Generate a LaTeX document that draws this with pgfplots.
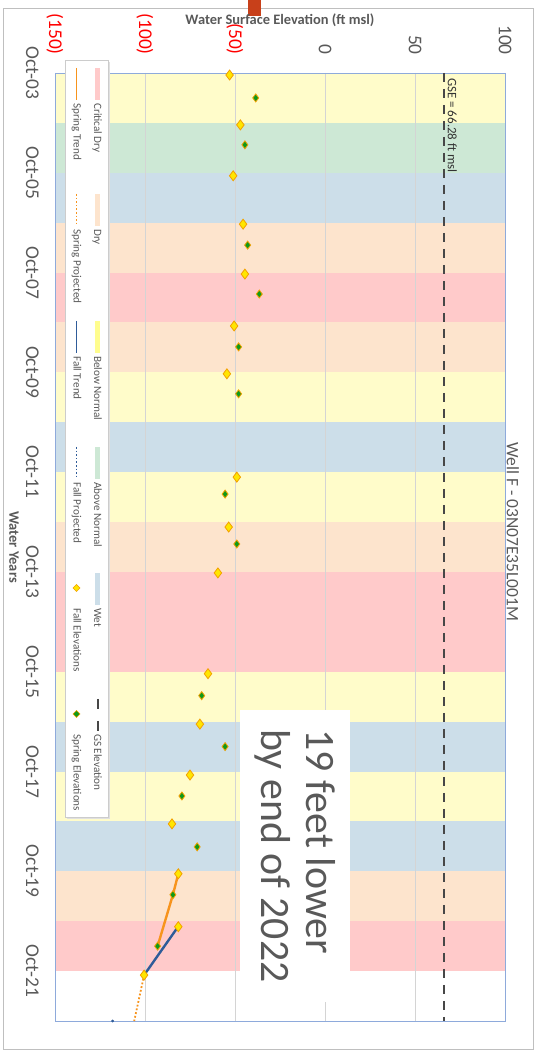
\documentclass[border=0pt]{standalone}
\usepackage{pgfplots}
\pgfplotsset{compat=1.18}
\usepackage{fontspec}
\setmainfont{Carlito}
\definecolor{crit}{HTML}{FFCACA}
\definecolor{dry}{HTML}{FDE4CD}
\definecolor{bn}{HTML}{FFFCCA}
\definecolor{an}{HTML}{CDE8D5}
\definecolor{wet}{HTML}{CCDEE9}
\definecolor{txt}{HTML}{595959}
\definecolor{sorange}{HTML}{F7941D}
\definecolor{fblue}{HTML}{2F5C99}
\definecolor{fyellow}{HTML}{FFE600}
\definecolor{mkedge}{HTML}{F2A000}
\definecolor{sgreen}{HTML}{0E9A1A}
\definecolor{frame}{HTML}{8EAADB}
\definecolor{arrowred}{HTML}{C8401A}
\pgfplotstableread{
t elev
0.04 -53
1.04 -47
2.06 -51
3.03 -45.5
4.03 -44.5
5.07 -50.5
6.03 -54.5
8.10 -49
9.10 -53.5
10.02 -59.5
12.04 -65
13.05 -69.5
14.07 -75
15.05 -85
16.05 -81.5
17.11 -81.5
18.08 -100.5
}\fall
\pgfplotstableread{
t elev
0.50 -38.5
1.44 -44.5
3.45 -43
4.43 -36.5
5.49 -48
6.43 -48
8.44 -55.5
9.44 -49
12.48 -68.5
13.50 -55.5
14.49 -79.5
15.51 -71
16.47 -84.5
17.50 -93
}\spring
\newcommand{\band}[3]{\addplot[fill=#3, draw=none, forget plot, on layer=axis background] coordinates {(-150,#1) (100,#1) (100,#2) (-150,#2)} --cycle;}
\newcommand{\legtext}[3]{\node[rotate=-90, anchor=west, inner sep=0pt, text height=1.5ex, text depth=.25ex, font=\fontsize{11.2}{12}\selectfont, text=txt] at (#1bp,#2bp) {#3};}
\begin{document}
\begin{tikzpicture}
\draw[black!25, line width=1bp] (3bp,3bp) rectangle (533bp,1044bp);
\fill[arrowred] (248bp,1037bp) rectangle (261bp,1053bp);
\begin{axis}[
  at={(55bp,32bp)}, anchor=south west,
  scale only axis, width=450bp, height=948bp,
  xmin=-150, xmax=100, ymin=0, ymax=19, y dir=reverse,
  set layers, clip=false,
  axis line style={draw=frame, line width=0.9bp},
  xtick={-150,-100,-50,0,50,100},
  xticklabels={\textcolor{red}{(150)},\textcolor{red}{(100)},\textcolor{red}{(50)},0,50,100},
  xticklabel pos=upper,
  ytick={0,2,...,18},
  yticklabels={Oct-03,Oct-05,Oct-07,Oct-09,Oct-11,Oct-13,Oct-15,Oct-17,Oct-19,Oct-21},
  major tick length=0pt,
  xmajorgrids, grid style={draw=black!17, line width=0.8bp},
  /pgf/number format/assume math mode=true,
  tick label style={font=\fontsize{19.5}{20}\selectfont, text=txt},
  xticklabel style={yshift=18bp, rotate=-90, anchor=east, inner sep=0pt},
  yticklabel style={xshift=-16bp, rotate=-90, anchor=north, inner sep=0pt},
]
\band{0}{1}{bn}
\band{1}{2}{an}
\band{2}{3}{wet}
\band{3}{4}{dry}
\band{4}{5}{crit}
\band{5}{6}{dry}
\band{6}{7}{bn}
\band{7}{8}{wet}
\band{8}{9}{bn}
\band{9}{10}{dry}
\band{10}{12}{crit}
\band{12}{13}{bn}
\band{13}{14}{wet}
\band{14}{15}{bn}
\band{15}{16}{wet}
\band{16}{17}{dry}
\band{17}{18}{crit}
% GSE line
\addplot[forget plot, draw=black!72, line width=2bp, dash pattern=on 9bp off 7bp] coordinates {(66.28,0) (66.28,19)};
% trends
\addplot[forget plot, draw=sorange, line width=2.4bp] coordinates {(-81.5,16.05) (-84.5,16.47) (-93,17.50)};
\addplot[forget plot, draw=fblue, line width=2.4bp] coordinates {(-82,17.13) (-100.5,18.08)};
\addplot[forget plot, draw=sorange, line width=1.8bp, dotted] coordinates {(-100.5,18.08) (-106,19)};
\addplot[forget plot, only marks, mark=*, mark size=1.2bp, fblue] coordinates {(-118,19)};
% points
\addplot[forget plot, only marks, mark=diamond*, mark size=5bp, mark options={fill=fyellow, draw=mkedge, line width=0.8bp}] table[x=elev, y=t] {\fall};
\addplot[forget plot, only marks, mark=diamond*, mark size=4bp, mark options={fill=sgreen, draw=mkedge, line width=0.8bp}] table[x=elev, y=t] {\spring};
% annotations
\node[font=\bfseries\fontsize{14.5}{16}\selectfont, text=txt] at (axis cs:-25,-1.06) {Water Surface Elevation (ft msl)};
\node[rotate=-90, font=\bfseries\fontsize{14.5}{16}\selectfont, text=txt] at (axis cs:-172.8,9.5) {Water Years};
\node[rotate=-90, font=\fontsize{17.5}{19}\selectfont, text=txt] at (axis cs:104.4,9.2) {Well F - 03N07E35L001M};
\node[rotate=-90, anchor=west, inner sep=0pt, font=\fontsize{13}{14}\selectfont, text=black!80] at (axis cs:70.8,0.1) {GSE = 66.28 ft msl};
\node[rotate=-90, fill=white, align=left, inner sep=0pt, minimum width=292bp, minimum height=110bp, font=\fontsize{42}{45}\selectfont, text=txt] at (axis cs:-16.7,15.69) {19 feet lower\\by end of 2022};
\end{axis}
% legend (drawn rotated, as in the reference)
\fill[black!12] (67bp,234bp) rectangle (110bp,991bp);
\filldraw[fill=white, draw=black!20, line width=0.6bp] (65bp,236bp) rectangle (108bp,993bp);
% row 1
\fill[crit] (95bp,985bp) rectangle (100bp,953bp);
\legtext{97}{950}{Critical Dry}
\fill[dry] (95bp,859bp) rectangle (100bp,827bp);
\legtext{97}{824}{Dry}
\fill[bn!70!yellow] (95bp,732bp) rectangle (100bp,700bp);
\legtext{97}{697}{Below Normal}
\fill[an] (95bp,606bp) rectangle (100bp,574bp);
\legtext{97}{571}{Above Normal}
\fill[wet] (95bp,480bp) rectangle (100bp,448bp);
\legtext{97}{445}{Wet}
\draw[black!72, line width=2bp, dash pattern=on 10bp off 12bp] (97.5bp,354bp) -- (97.5bp,322bp);
\legtext{97}{319}{GS Elevation}
% row 2
\draw[sorange, line width=1.8bp] (76.5bp,985bp) -- (76.5bp,953bp);
\legtext{76.5}{950}{Spring Trend}
\draw[sorange, line width=1.6bp, dotted] (76.5bp,859bp) -- (76.5bp,827bp);
\legtext{76.5}{824}{Spring Projected}
\draw[fblue, line width=1.8bp] (76.5bp,732bp) -- (76.5bp,700bp);
\legtext{76.5}{697}{Fall Trend}
\draw[fblue, line width=1.6bp, dotted] (76.5bp,606bp) -- (76.5bp,574bp);
\legtext{76.5}{571}{Fall Projected}
\filldraw[fill=fyellow, draw=mkedge, line width=0.6bp] (76.5bp,468.5bp) -- (80bp,465bp) -- (76.5bp,461.5bp) -- (73bp,465bp) -- cycle;
\legtext{76.5}{445}{Fall Elevations}
\filldraw[fill=sgreen, draw=mkedge, line width=0.6bp] (76.5bp,342.5bp) -- (80bp,339bp) -- (76.5bp,335.5bp) -- (73bp,339bp) -- cycle;
\legtext{76.5}{319}{Spring Elevations}
\pgfresetboundingbox
\path[use as bounding box] (0,0) rectangle (539bp,1053bp);
\end{tikzpicture}
\end{document}
